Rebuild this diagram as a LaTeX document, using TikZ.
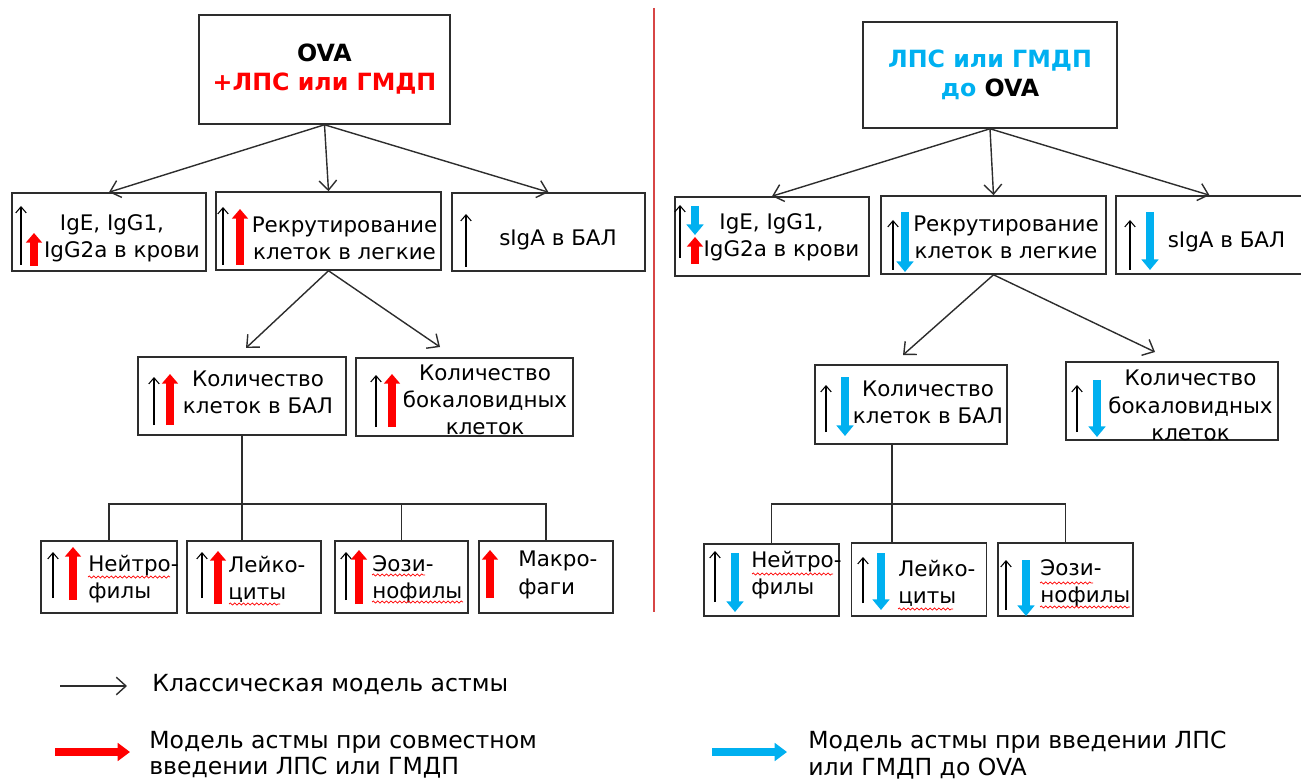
\documentclass[tikz,border=0pt]{standalone}
\usepackage{fontspec}
\setmainfont{DejaVu Sans}
\usetikzlibrary{arrows.meta,decorations.pathmorphing}

\definecolor{lpsred}{RGB}{255,0,0}
\definecolor{lpsblue}{RGB}{0,176,240}
\definecolor{linegray}{RGB}{45,45,45}
\definecolor{divred}{RGB}{215,70,70}

\begin{document}
\begin{tikzpicture}[x=0.02cm,y=-0.02cm,
    box/.style={draw=linegray,line width=0.9pt,inner sep=0pt},
    title/.style={box,align=center,font=\bfseries\fontsize{13.5}{16.5}\selectfont},
    txt/.style={inner sep=0pt,align=center,font=\fontsize{12.2}{15.5}\selectfont},
    ltxt/.style={inner sep=0pt,align=left,anchor=west,font=\fontsize{12.2}{15.5}\selectfont},
    legtxt/.style={inner sep=0pt,align=left,anchor=west,font=\fontsize{13.4}{15}\selectfont},
    link/.style={draw=linegray,line width=0.8pt},
    conn/.style={link,-{Straight Barb[length=5.5pt,width=10pt]}},
    thinup/.style={line width=0.6pt,-{Straight Barb[length=3.5pt,width=6pt]}},
    redarr/.style={lpsred,line width=4.2pt,-{Triangle[length=5.5pt,width=9pt]}},
    bluearr/.style={lpsblue,line width=4.2pt,-{Triangle[length=6pt,width=9.5pt]}},
    spell/.style={lpsred,line width=0.4pt,decorate,decoration={snake,amplitude=0.6pt,segment length=2.5pt}}]

    \useasboundingbox (0,0) rectangle (1301,780);

    % left: OVA + LPS/GMDP together
    \node[title,minimum width=5.02cm,minimum height=2.18cm] (ova) at (324.5,69.5) {OVA\\\textcolor{lpsred}{+ЛПС или ГМДП}};

    \node[box,minimum width=3.88cm,minimum height=1.56cm] (ige) at (109,232) {};
    \node[box,minimum width=4.5cm,minimum height=1.56cm] (rec) at (328.5,231) {};
    \node[box,minimum width=3.86cm,minimum height=1.56cm] (siga) at (548.5,232) {};
    \node[box,minimum width=4.16cm,minimum height=1.56cm] (bal) at (242,396) {};
    \node[box,minimum width=4.34cm,minimum height=1.56cm] (gob) at (464.5,397) {};
    \node[box,minimum width=2.72cm,minimum height=1.44cm] (neu) at (109,577) {};
    \node[box,minimum width=2.68cm,minimum height=1.44cm] (leu) at (254,577) {};
    \node[box,minimum width=2.66cm,minimum height=1.44cm] (eos) at (401.5,577) {};
    \node[box,minimum width=2.68cm,minimum height=1.44cm] (mac) at (546,577) {};

    \node[txt] (ige-t) at (122,238) {IgE, IgG1,\hspace*{0.4cm}\\IgG2a в крови};
    \node[txt] (rec-t) at (344.5,238) {Рекрутирование\\клеток в легкие};
    \node[txt] (siga-t) at (558,240) {sIgA в БАЛ};
    \node[txt] (bal-t) at (258,392) {Количество\\клеток в БАЛ};
    \node[txt] (gob-t) at (485,400) {Количество\\бокаловидных\\клеток};
    \node[ltxt] (neu-t) at (88,579) {Нейтро-\\филы};
    \node[ltxt] (leu-t) at (228,579) {Лейко-\\циты};
    \node[ltxt] (eos-t) at (372,579) {Эози-\\нофилы};
    \node[ltxt] (mac-t) at (518,575) {Макро-\\фаги};

    \draw[conn] (ova.south) -- (ige.north);
    \draw[conn] (ova.south) -- (rec.north);
    \draw[conn] (ova.south) -- (siga.north);
    \coordinate (bal-in) at (246,348);
    \coordinate (gob-in) at (440,347);
    \draw[conn] (rec.south) -- (bal-in);
    \draw[conn] (rec.south) -- (gob-in);
    \coordinate (bus) at (109,504);
    \draw[link] (bal.south) -- (bal.south |- leu.north);
    \draw[link] (neu.north) -- (neu.north |- bus) -| (mac.north);
    \draw[link] (eos.north) -- (eos.north |- bus);

    \draw[thinup] (21,265) -- (21,206);
    \draw[redarr] (34,266) -- (34,233);
    \draw[thinup] (223,265) -- (223,207);
    \draw[redarr] (240,265) -- (240,209);
    \draw[thinup] (466,267) -- (466,214);
    \draw[thinup] (154,425) -- (154,377);
    \draw[redarr] (170,425) -- (170,374);
    \draw[thinup] (376,427) -- (376,375);
    \draw[redarr] (392,427) -- (392,374);
    \draw[thinup] (53,598) -- (53,552);
    \draw[redarr] (73,600) -- (73,547);
    \draw[thinup] (202,598) -- (202,552);
    \draw[redarr] (218,604) -- (218,551);
    \draw[thinup] (346,600) -- (346,552);
    \draw[redarr] (359,604) -- (359,550);
    \draw[redarr] (490,598) -- (490,550);

    \draw[spell] (88,577) -- (170,577);
    \draw[spell] (229,604) -- (280,604);
    \draw[spell] (372,575) -- (425,575);
    \draw[spell] (372,602) -- (463,602);

    \draw[divred,line width=0.6pt] (654,8) -- (654,612);

    % right: LPS/GMDP before OVA
    \node[title,minimum width=5.08cm,minimum height=2.12cm] (lps) at (990,75) {\textcolor{lpsblue}{ЛПС или ГМДП}\\\textcolor{lpsblue}{до} OVA};

    \node[box,minimum width=3.88cm,minimum height=1.58cm] (ige2) at (772,236.5) {};
    \node[box,minimum width=4.5cm,minimum height=1.56cm] (rec2) at (993.5,235) {};
    \node[box,minimum width=3.74cm,minimum height=1.56cm] (siga2) at (1209.5,235) {};
    \node[box,minimum width=3.84cm,minimum height=1.58cm] (bal2) at (911,404.5) {};
    \node[box,minimum width=4.24cm,minimum height=1.56cm] (gob2) at (1172,401) {};
    \node[box,minimum width=2.7cm,minimum height=1.44cm] (neu2) at (771.5,580) {};
    \node[box,minimum width=2.7cm,minimum height=1.46cm] (leu2) at (919,579.5) {};
    \node[box,minimum width=2.7cm,minimum height=1.46cm] (eos2) at (1065.5,579.5) {};

    \node[txt] (ige2-t) at (781.5,237) {IgE, IgG1,\hspace*{0.4cm}\\IgG2a в крови};
    \node[txt] (rec2-t) at (1006,237) {Рекрутирование\\клеток в легкие};
    \node[txt] (siga2-t) at (1226.5,242) {sIgA в БАЛ};
    \node[txt] (bal2-t) at (928,402) {Количество\\клеток в БАЛ};
    \node[txt] (gob2-t) at (1190.5,405.5) {Количество\\бокаловидных\\клеток};
    \node[ltxt] (neu2-t) at (751,575) {Нейтро-\\филы};
    \node[ltxt] (leu2-t) at (898,583) {Лейко-\\циты};
    \node[ltxt] (eos2-t) at (1040,583) {Эози-\\нофилы};

    \draw[conn] (lps.south) -- (ige2.north);
    \draw[conn] (lps.south) -- (rec2.north);
    \draw[conn] (lps.south) -- (siga2.north);
    \coordinate (bal2-in) at (903,355);
    \coordinate (gob2-in) at (1155,352);
    \draw[conn] (rec2.south) -- (bal2-in);
    \draw[conn] (rec2.south) -- (gob2-in);
    \coordinate (stem2) at (892,444);
    \coordinate (bus2) at (772,504);
    \draw[link] (stem2) -- (stem2 |- leu2.north);
    \draw[link] (neu2.north) -- (neu2.north |- bus2) -| (eos2.north);

    \draw[thinup] (680,258) -- (680,205);
    \draw[bluearr] (695,206) -- (695,235);
    \draw[redarr] (695,264) -- (695,237);
    \draw[thinup] (893,270) -- (893,220);
    \draw[bluearr] (905,212) -- (905,272);
    \draw[thinup] (1130,270) -- (1130,220);
    \draw[bluearr] (1150,212) -- (1150,270);
    \draw[thinup] (826,432) -- (826,385);
    \draw[bluearr] (845,377) -- (845,436);
    \draw[thinup] (1077,432) -- (1077,385);
    \draw[bluearr] (1097,380) -- (1097,437);
    \draw[thinup] (715,602) -- (715,551);
    \draw[bluearr] (735,553) -- (735,612);
    \draw[thinup] (863,603) -- (863,557);
    \draw[bluearr] (881,553) -- (881,610);
    \draw[thinup] (1006,610) -- (1006,560);
    \draw[bluearr] (1026,560) -- (1026,616);

    \draw[spell] (752,574) -- (833,574);
    \draw[spell] (898,609) -- (953,609);
    \draw[spell] (1040,583) -- (1093,583);
    \draw[spell] (1040,607) -- (1130,607);

    % legend
    \coordinate (k0) at (60,686);
    \coordinate (k1) at (127,686);
    \draw[conn] (k0) -- (k1);
    \node[legtxt] (leg-c) at (152,685) {Классическая модель астмы};
    \coordinate (r0) at (55,752);
    \coordinate (r1) at (130,752);
    \draw[redarr,line width=5pt,-{Triangle[length=7pt,width=10pt]}] (r0) -- (r1);
    \node[legtxt] (leg-r) at (149,755) {Модель астмы при совместном\\введении ЛПС или ГМДП};
    \coordinate (b0) at (712,752);
    \coordinate (b1) at (787,752);
    \draw[bluearr,line width=5pt,-{Triangle[length=7pt,width=10pt]}] (b0) -- (b1);
    \node[legtxt] (leg-b) at (808,755) {Модель астмы при введении ЛПС\\или ГМДП до OVA};
\end{tikzpicture}
\end{document}
